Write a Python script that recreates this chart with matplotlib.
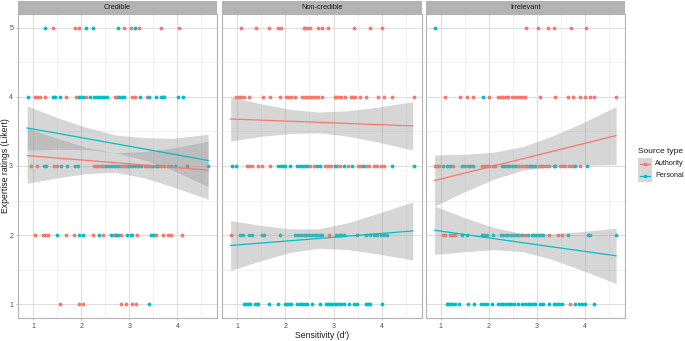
import matplotlib
matplotlib.use('Agg')
import matplotlib.pyplot as plt
from matplotlib.patches import Rectangle
from matplotlib.lines import Line2D

plt.rcParams['font.family'] = ['Liberation Sans', 'DejaVu Sans']

FACETS = ['Credible', 'Non-credible', 'Irrelevant']
SOURCES = ['Authority', 'Personal']
COLORS = ['#F8766D', '#00BFC4']
RATINGS = [1, 2, 3, 4, 5]
X_TICKS = [1, 2, 3, 4]
Y_TICKS = [1, 2, 3, 4, 5]

# ---------------- points: sensitivity values per facet / source / rating ----------------
cred_auth_5 = [1.40, 1.87, 1.95, 2.88, 3.03, 3.21, 3.66, 4.03]
cred_auth_4 = [1.04, 1.08, 1.14, 1.24, 1.67, 1.89, 1.97, 2.10, 2.70, 2.75, 3.06, 3.11, 3.36]
cred_auth_3 = [0.96, 1.08, 1.43, 1.50, 2.26, 2.30, 2.35, 2.40, 2.44, 2.83, 2.88, 2.93, 2.97,
               3.32, 3.37, 3.41, 3.45, 3.66, 3.72, 3.80]
cred_auth_2 = [1.04, 1.20, 1.25, 1.30, 1.67, 1.85, 2.25, 2.44, 2.66, 2.70, 2.82, 3.06, 3.15,
               3.53, 3.56, 3.70, 3.80, 3.87, 4.10]
cred_auth_1 = [1.56, 1.94, 2.04, 2.82, 2.93, 3.05, 3.14]

cred_pers_5 = [1.25, 2.09, 2.24, 2.76, 3.11]
cred_pers_4 = [0.88, 1.40, 1.45, 1.56, 1.94, 2.03, 2.18, 2.27, 2.32, 2.37, 2.42, 2.48, 2.54,
               2.79, 2.84, 2.89, 3.22, 3.41, 3.55, 3.65, 3.69, 3.72, 4.01, 4.11]
cred_pers_3 = [1.22, 1.26, 1.58, 1.69, 1.86, 1.93, 2.52, 2.58, 2.64, 2.70, 2.76, 3.00, 3.06,
               3.12, 3.18, 3.25, 3.49, 3.55, 3.59, 3.86, 3.94, 4.20, 4.64]
cred_pers_2 = [1.50, 1.94, 2.04, 2.36, 2.61, 2.73, 2.77, 2.95, 3.03, 3.46, 3.49]
cred_pers_1 = [3.41]

ncred_auth_5 = [1.09, 1.39, 1.66, 1.86, 1.92, 2.38, 2.41, 2.45, 2.52, 2.68, 2.77, 2.88,
                3.42, 3.75, 4.01]
ncred_auth_4 = [0.99, 1.04, 1.09, 1.14, 1.26, 1.55, 1.68, 1.89, 2.02, 2.06, 2.11, 2.21, 2.35,
                2.40, 2.45, 2.52, 2.56, 2.61, 2.68, 2.77, 3.02, 3.06, 3.11, 3.16, 3.23, 3.36,
                3.40, 3.44, 3.55, 3.67, 3.93, 4.05, 4.20, 4.66]
ncred_auth_3 = [1.21, 1.26, 1.31, 1.43, 1.52, 1.69, 2.52, 2.59, 2.82, 2.86, 2.90, 2.95, 3.08,
                3.13, 3.29, 3.50, 3.55, 3.67, 3.74, 3.84, 3.91, 3.98, 4.05]
ncred_auth_2 = [0.88, 2.90]
ncred_auth_1 = []

ncred_pers_5 = []
ncred_pers_4 = []
ncred_pers_3 = [0.90, 0.99, 1.86, 1.91, 1.96, 2.00, 2.09, 2.25, 2.30, 2.35, 2.40, 2.46, 2.66,
                2.72, 3.02, 3.22, 3.39, 3.60, 4.20, 4.66]
ncred_pers_2 = [1.07, 1.12, 1.24, 1.31, 1.52, 1.57, 1.89, 2.21, 2.26, 2.32, 2.38, 2.44, 2.50,
                2.56, 2.61, 2.66, 2.72, 2.77, 3.06, 3.11, 3.16, 3.22, 3.49, 3.67, 3.76, 3.84,
                3.91, 3.98, 4.05, 4.10]
ncred_pers_1 = [1.14, 1.18, 1.23, 1.28, 1.38, 1.41, 1.44, 1.66, 1.86, 2.00, 2.04, 2.08, 2.11,
                2.25, 2.30, 2.35, 2.40, 2.45, 2.56, 2.73, 2.84, 2.88, 2.93, 2.97, 3.04, 3.08,
                3.12, 3.15, 3.22, 3.32, 3.42, 3.49, 3.67, 3.72, 3.76, 4.01]

irr_auth_5 = [2.77, 3.02, 3.22, 3.34, 3.70, 4.01]
irr_auth_4 = [1.08, 1.39, 1.54, 1.66, 2.00, 2.18, 2.25, 2.30, 2.35, 2.40, 2.47, 2.54, 2.61,
              2.65, 2.70, 2.75, 3.06, 3.38, 3.64, 3.74, 3.88, 4.00, 4.10, 4.19, 4.64]
irr_auth_3 = [0.87, 0.92, 0.96, 1.26, 1.56, 1.85, 1.91, 1.96, 2.01, 2.08, 2.13, 2.58, 2.63,
              2.68, 2.74, 2.79, 3.03, 3.08, 3.13, 3.18, 3.24, 3.48, 3.53, 3.58, 3.67, 3.72, 3.90]
irr_auth_2 = [1.05, 1.09, 1.19, 1.23, 1.27, 1.30, 2.62, 2.74, 3.24, 3.43, 3.52]
irr_auth_1 = [3.69]

irr_pers_5 = [0.88]
irr_pers_4 = [1.87]
irr_pers_3 = [1.05, 1.12, 1.19, 1.44, 1.51, 1.61, 1.66, 2.27, 2.32, 2.37, 2.42, 2.48, 2.53,
              2.86, 2.90, 2.96, 3.34, 3.38, 3.79, 4.04]
irr_pers_2 = [1.44, 1.54, 1.85, 1.90, 1.96, 2.09, 2.25, 2.30, 2.35, 2.40, 2.46, 2.51, 2.58,
              2.68, 2.80, 2.89, 2.93, 2.98, 3.03, 3.08, 3.13, 3.65, 4.06, 4.10, 4.64]
irr_pers_1 = [1.12, 1.15, 1.19, 1.23, 1.30, 1.37, 1.57, 1.68, 1.84, 1.89, 1.96, 2.06, 2.18,
              2.25, 2.30, 2.36, 2.41, 2.46, 2.52, 2.61, 2.68, 2.75, 2.80, 2.86, 2.91, 2.96,
              3.06, 3.13, 3.24, 3.34, 3.40, 3.46, 3.52, 3.79, 3.86, 3.93, 4.00, 4.19]

# ---------------- linear fits with confidence bands ----------------
X_FIT = [0.87, 1.5, 2.1, 2.7, 3.3, 3.9, 4.64]

cred_auth_fit = [3.15, 3.115, 3.082, 3.048, 3.015, 2.981, 2.94]
cred_auth_lo = [2.75, 2.83, 2.89, 2.91, 2.83, 2.70, 2.52]
cred_auth_hi = [3.55, 3.40, 3.27, 3.19, 3.21, 3.26, 3.36]
cred_pers_fit = [3.55, 3.473, 3.398, 3.323, 3.248, 3.173, 3.08]
cred_pers_lo = [3.23, 3.24, 3.24, 3.19, 3.09, 2.94, 2.70]
cred_pers_hi = [3.87, 3.70, 3.56, 3.45, 3.41, 3.40, 3.46]

ncred_auth_fit = [3.68, 3.664, 3.648, 3.632, 3.616, 3.600, 3.58]
ncred_auth_lo = [3.36, 3.43, 3.47, 3.48, 3.43, 3.35, 3.23]
ncred_auth_hi = [4.00, 3.90, 3.82, 3.78, 3.80, 3.85, 3.93]
ncred_pers_fit = [1.85, 1.885, 1.918, 1.952, 1.985, 2.019, 2.06]
ncred_pers_lo = [1.49, 1.63, 1.75, 1.81, 1.79, 1.73, 1.64]
ncred_pers_hi = [2.21, 2.14, 2.09, 2.09, 2.18, 2.31, 2.48]

irr_auth_fit = [2.79, 2.899, 3.002, 3.105, 3.209, 3.312, 3.44]
irr_auth_lo = [2.42, 2.63, 2.81, 2.94, 2.99, 3.01, 3.02]
irr_auth_hi = [3.16, 3.17, 3.20, 3.28, 3.43, 3.61, 3.86]
irr_pers_fit = [2.07, 2.008, 1.949, 1.890, 1.831, 1.773, 1.70]
irr_pers_lo = [1.72, 1.76, 1.79, 1.76, 1.65, 1.50, 1.30]
irr_pers_hi = [2.42, 2.25, 2.11, 2.02, 2.02, 2.05, 2.10]

POINTS = [
    [[cred_auth_1, cred_auth_2, cred_auth_3, cred_auth_4, cred_auth_5],
     [cred_pers_1, cred_pers_2, cred_pers_3, cred_pers_4, cred_pers_5]],
    [[ncred_auth_1, ncred_auth_2, ncred_auth_3, ncred_auth_4, ncred_auth_5],
     [ncred_pers_1, ncred_pers_2, ncred_pers_3, ncred_pers_4, ncred_pers_5]],
    [[irr_auth_1, irr_auth_2, irr_auth_3, irr_auth_4, irr_auth_5],
     [irr_pers_1, irr_pers_2, irr_pers_3, irr_pers_4, irr_pers_5]],
]
FITS = [
    [(cred_auth_fit, cred_auth_lo, cred_auth_hi), (cred_pers_fit, cred_pers_lo, cred_pers_hi)],
    [(ncred_auth_fit, ncred_auth_lo, ncred_auth_hi), (ncred_pers_fit, ncred_pers_lo, ncred_pers_hi)],
    [(irr_auth_fit, irr_auth_lo, irr_auth_hi), (irr_pers_fit, irr_pers_lo, irr_pers_hi)],
]

# ---------------- layout ----------------
W, H = 685, 341
fig = plt.figure(figsize=(W / 100, H / 100), dpi=100)


def fx(px):
    return px / W


def fy(py):
    return 1 - py / H


PANELS_PX = [(18.3, 217.0), (221.7, 421.7), (425.7, 625.0)]
TOP_PX, BOT_PX = 14.0, 318.0
STRIP_TOP_PX = 0.5

GRID = '#DEDEDE'
BORDER = '#B3B3B3'
TEXT = '#4D4D4D'

for i, (l, r) in enumerate(PANELS_PX):
    ax = fig.add_axes([fx(l), fy(BOT_PX), fx(r) - fx(l), fy(TOP_PX) - fy(BOT_PX)])
    ax.set_xlim(0.685, 4.825)
    ax.set_ylim(0.8, 5.2)
    ax.set_xticks(X_TICKS)
    ax.set_yticks(Y_TICKS)
    ax.set_xticks([1.5, 2.5, 3.5, 4.5], minor=True)
    ax.set_yticks([1.5, 2.5, 3.5, 4.5], minor=True)
    ax.grid(True, which='major', color=GRID, linewidth=0.75)
    ax.grid(True, which='minor', color='#EDEDED', linewidth=0.5)
    ax.set_axisbelow(True)
    for s in ax.spines.values():
        s.set_color(BORDER)
        s.set_linewidth(0.8)
    ax.tick_params(which='minor', length=0)
    ax.tick_params(which='major', length=1.5, width=0.6, color=BORDER,
                   labelsize=5, labelcolor=TEXT, pad=2.2)
    if i == 0:
        ax.set_yticklabels([str(v) for v in Y_TICKS])
    else:
        ax.set_yticklabels([])
        ax.tick_params(axis='y', length=0)
    ax.set_xticklabels([str(v) for v in X_TICKS])

    # points
    for s_idx in range(2):
        for rating, xs in zip(RATINGS, POINTS[i][s_idx]):
            ax.scatter(xs, [rating] * len(xs), s=7.5, color=COLORS[s_idx],
                       linewidths=0, zorder=3)
    # smooths
    for s_idx in range(2):
        fit, lo, hi = FITS[i][s_idx]
        ax.fill_between(X_FIT, lo, hi, color='#999999', alpha=0.4, linewidth=0, zorder=4)
    for s_idx in range(2):
        fit, lo, hi = FITS[i][s_idx]
        ax.plot(X_FIT, fit, color=COLORS[s_idx], linewidth=0.9, zorder=5)

    # strip
    sax = fig.add_axes([fx(l), fy(TOP_PX), fx(r) - fx(l), fy(STRIP_TOP_PX) - fy(TOP_PX)])
    sax.set_facecolor('#B3B3B3')
    sax.set_xticks([])
    sax.set_yticks([])
    for s in sax.spines.values():
        s.set_visible(False)
    sax.text(0.5, 0.45, FACETS[i], ha='center', va='center', fontsize=5.3, color='#1A1A1A',
             transform=sax.transAxes)

# axis titles
fig.text(fx(321.7), fy(336), "Sensitivity (d')", ha='center', va='center', fontsize=6.2,
         color='#1A1A1A')
fig.text(fx(5.5), fy(166), 'Expertise ratings (Likert)', ha='center', va='center',
         rotation=90, fontsize=6.2, color='#1A1A1A')

# legend
fig.text(fx(637.5), fy(151), 'Source type', ha='left', va='center', fontsize=6.0, color='#1A1A1A')
key_rows = [163.5, 175.5]
for k, name in enumerate(SOURCES):
    yc = key_rows[k]
    fig.patches.append(Rectangle((fx(638), fy(yc + 6)), fx(651.5) - fx(638), fy(yc - 6) - fy(yc + 6),
                                 transform=fig.transFigure, facecolor='#D6D6D6',
                                 edgecolor='none'))
    fig.lines.append(Line2D([fx(639.5), fx(650)], [fy(yc), fy(yc)], transform=fig.transFigure,
                            color=COLORS[k], linewidth=0.9))
    fig.lines.append(Line2D([fx(644.75)], [fy(yc)], transform=fig.transFigure, marker='o',
                            markersize=1.6, color=COLORS[k], linewidth=0))
    fig.text(fx(655), fy(yc), name, ha='left', va='center', fontsize=5.2, color='#1A1A1A')

fig.savefig('out.png', dpi=100)
